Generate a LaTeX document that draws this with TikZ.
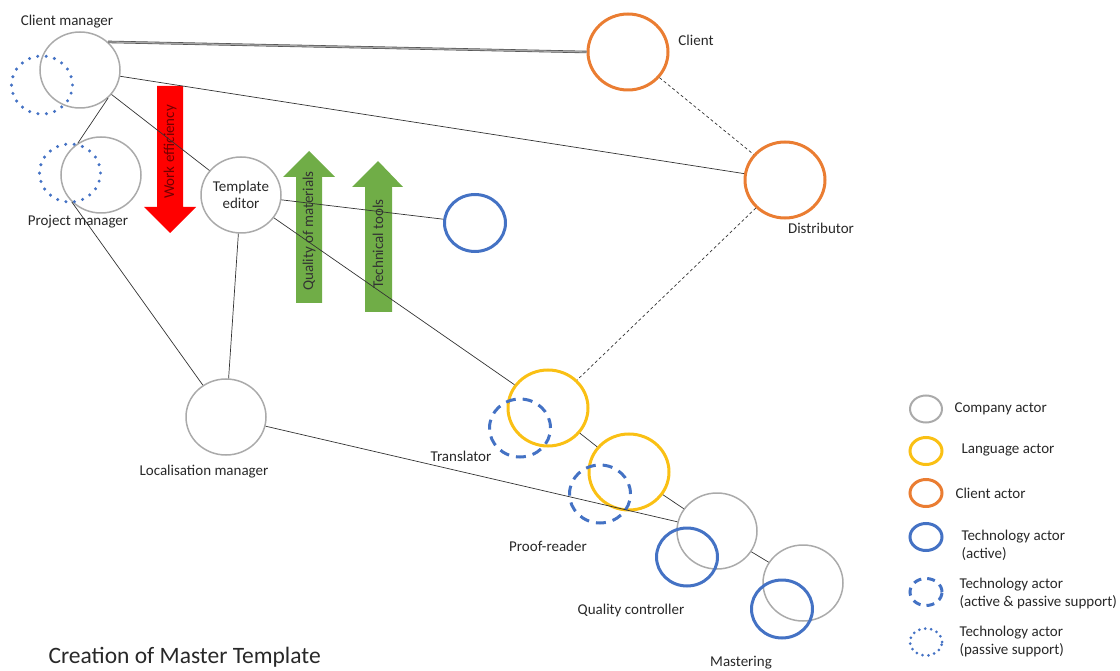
\documentclass[tikz,border=0pt]{standalone}
\usepackage{fontspec}
\setmainfont{Carlito}
\usepackage{tikz}
\usetikzlibrary{shapes.geometric,backgrounds}
\definecolor{compgray}{RGB}{170,170,170}
\definecolor{langyellow}{RGB}{250,192,20}
\definecolor{cliorange}{RGB}{234,125,50}
\definecolor{techblue}{RGB}{68,114,196}
\definecolor{arrred}{RGB}{255,0,0}
\definecolor{arrgreen}{RGB}{112,173,71}
\definecolor{txtgray}{RGB}{40,40,40}
\tikzset{
  actor/.style={ellipse, inner sep=0pt, minimum width=80pt, minimum height=76pt},
  company/.style={actor, draw=compgray, line width=1.5pt},
  language/.style={actor, draw=langyellow, line width=3pt},
  clientact/.style={actor, draw=cliorange, line width=3pt},
  techact/.style={ellipse, inner sep=0pt, minimum width=61pt, minimum height=58pt, draw=techblue, line width=3pt},
  techdash/.style={techact, dash pattern=on 10pt off 7pt},
  techdot/.style={techact, line cap=round, dash pattern=on 0pt off 8.5pt, line width=3.4pt},
  legcirc/.style={minimum width=32pt, minimum height=27pt},
  link/.style={draw=black!80, line width=0.7pt},
  dashlink/.style={link, dash pattern=on 3pt off 2.5pt},
  dblink/.style={draw=black!70, line width=0.6pt, double=gray!70, double distance=1.3pt},
  lbl/.style={font=\fontsize{15}{17}\selectfont, text=txtgray},
  legtxt/.style={lbl, anchor=west, align=left, font=\fontsize{15}{18}\selectfont},
}
\begin{document}
\begin{tikzpicture}[x=1pt,y=-1pt]
\useasboundingbox (0,0) rectangle (1120,671);
% arrows behind the links
\fill[arrred] (157,86) -- (183,86) -- (183,207) -- (196,207) -- (170,233) -- (144,207) -- (157,207) -- cycle;
\fill[arrgreen] (296,303) -- (322,303) -- (322,177) -- (335,177) -- (309,151) -- (283,177) -- (296,177) -- cycle;
\fill[arrgreen] (365,312) -- (392,312) -- (392,187) -- (403,187) -- (378,161) -- (352,187) -- (365,187) -- cycle;
\node[lbl, rotate=90, text=red!45!black] (workeff) at (170,152) {Work efficiency};
\node[lbl, rotate=90, text=black!80] (quality) at (309,231) {Quality of materials};
\node[lbl, rotate=90, text=black!80] (techtools) at (378,244) {Technical tools};

% actors
\node[company] (cm) at (80,70) {};
\node[techdot] (cmsup) at (42,85) {};
\node[company] (pm) at (101,175) {};
\node[techdot] (pmsup) at (70,173) {};
\node[company, lbl, align=center] (te) at (241,195) {Template\\editor};
\node[techact, minimum width=61pt, minimum height=57pt] (tech) at (475,223) {};
\node[company] (lm) at (226,417) {};
\node[clientact] (client) at (628,52) {};
\node[clientact] (dist) at (785,180) {};
\node[language] (tr) at (548,408) {};
\node[techdash] (trsup) at (520,428) {};
\node[language] (pr) at (629,472) {};
\node[techdash] (prsup) at (600,494) {};
\node[company] (qc) at (717,531) {};
\node[techact] (qcsup) at (687,557) {};
\node[company] (mast) at (803,583) {};
\node[techact] (mastsup) at (782,609) {};

% links
\draw[dblink] (cm.45) -- (client.west);
\draw[link] (cm) -- (dist);
\draw[link] (cm) -- (te);
\draw[link] (cm.315) -- (pm.126);
\draw[link] (pm.223) -- (lm.126);
\draw[link] (te) -- (lm);
\draw[link] (te) -- (tech);
\draw[link] (te) -- (tr);
\draw[link] (lm) -- (qc);
\draw[link] (tr) -- (pr);
\draw[link] (pr) -- (qc);
\draw[link] (qc) -- (mast);
\draw[dashlink] (client) -- (dist);
\draw[dashlink] (dist) -- (tr);

% labels
\node[lbl] (cmlbl) at (67,22) {Client manager};
\node[lbl] (pmlbl) at (78,222) {Project manager};
\node[lbl] (lmlbl) at (204,472) {Localisation manager};
\node[lbl] (clientlbl) at (696,40) {Client};
\node[lbl] (distlbl) at (821,228) {Distributor};
\node[lbl] (trlbl) at (461,456) {Translator};
\node[lbl] (prlbl) at (548,546) {Proof-reader};
\node[lbl] (qclbl) at (631,610) {Quality controller};
\node[lbl] (mastlbl) at (741,663) {Mastering};
\node[lbl, font=\fontsize{23.5}{28}\selectfont, anchor=west] (title) at (45,657) {Creation of Master Template};

% legend
\node[company, legcirc, line width=2pt] (legcomp) at (926,409) {};
\node[language, legcirc] (leglang) at (926,451) {};
\node[clientact, legcirc] (legcli) at (926,493) {};
\node[techact, legcirc] (legact) at (926,537) {};
\node[techdash, legcirc, dash pattern=on 8pt off 6pt] (legdash) at (926,592) {};
\node[techdot, legcirc, dash pattern=on 0pt off 6pt, line width=3pt] (legdot) at (926,642) {};
\node[legtxt] (legcomptxt) at (951,409) {Company actor};
\node[legtxt] (leglangtxt) at (958,450) {Language actor};
\node[legtxt] (legclitxt) at (952,493) {Client actor};
\node[legtxt] (legacttxt) at (958,545) {Technology actor\\(active)};
\node[legtxt] (legdashtxt) at (956,593) {Technology actor\\(active \& passive support)};
\node[legtxt] (legdottxt) at (956,641) {Technology actor\\(passive support)};
\end{tikzpicture}
\end{document}
